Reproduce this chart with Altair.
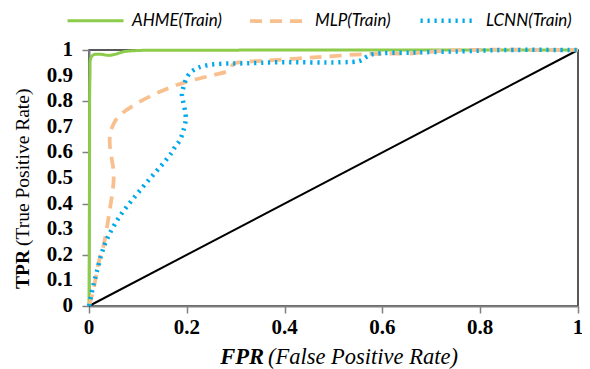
import altair as alt
import pandas as pd

# ---- data ----
ahme_fpr = [0, 0.001, 0.002, 0.004, 0.01, 0.025, 0.04, 0.055, 0.07, 0.1, 0.2, 0.5, 1]
ahme_tpr = [0, 0.5, 0.9, 0.97, 0.982, 0.983, 0.979, 0.984, 0.993, 0.998, 0.999, 1, 1]

mlp_fpr = [0, 0.009, 0.021, 0.029, 0.042, 0.05, 0.05, 0.046, 0.043, 0.043, 0.05, 0.06,
           0.077, 0.104, 0.145, 0.179, 0.213, 0.254, 0.288, 0.295, 0.322, 0.357, 0.459,
           0.568, 0.663, 0.711, 0.76, 1]
mlp_tpr = [0, 0.0625, 0.18, 0.23, 0.37, 0.48, 0.53, 0.58, 0.62, 0.67, 0.71, 0.74,
           0.766, 0.798, 0.837, 0.863, 0.883, 0.902, 0.922, 0.945, 0.954, 0.958, 0.971,
           0.984, 0.987, 0.995, 1, 1]

lcnn_fpr = [0, 0.009, 0.016, 0.026, 0.036, 0.05, 0.067, 0.087, 0.108, 0.128, 0.149, 0.169,
            0.176, 0.186, 0.196, 0.198, 0.196, 0.193, 0.19, 0.193, 0.198, 0.206, 0.22,
            0.234, 0.261, 0.316, 0.39, 0.513, 0.554, 0.568, 0.581, 0.663, 0.765, 0.85, 1]
lcnn_tpr = [0, 0.082, 0.134, 0.206, 0.258, 0.31, 0.362, 0.411, 0.46, 0.505, 0.551, 0.599,
            0.622, 0.648, 0.707, 0.733, 0.766, 0.794, 0.824, 0.854, 0.883, 0.909, 0.928,
            0.9375, 0.945, 0.948, 0.952, 0.952, 0.958, 0.974, 0.984, 0.99, 0.995, 1, 1]

series_names = ["AHME(Train)", "MLP(Train)", "LCNN(Train)"]
series_colors = ["#8DCB4B", "#F9C08F", "#00A9EC"]
diag_x = [0, 1]
diag_y = [0, 1]
x_ticks = [0, 0.2, 0.4, 0.6, 0.8, 1]
y_ticks = [0, 0.1, 0.2, 0.3, 0.4, 0.5, 0.6, 0.7, 0.8, 0.9, 1]

rows = []
for name, xs, ys in zip(series_names, [ahme_fpr, mlp_fpr, lcnn_fpr], [ahme_tpr, mlp_tpr, lcnn_tpr]):
    for i, (a, b) in enumerate(zip(xs, ys)):
        rows.append({"series": name, "fpr": a, "tpr": b, "idx": i})
df = pd.DataFrame(rows)
diag = pd.DataFrame({"fpr": diag_x, "tpr": diag_y})
xt = pd.DataFrame({"v": x_ticks, "lab": [f"{v:g}" for v in x_ticks]})
yt = pd.DataFrame({"v": y_ticks, "lab": [f"{v:g}" for v in y_ticks]})

xscale = alt.Scale(domain=[0, 1], nice=False, zero=False)
yscale = alt.Scale(domain=[0, 1], nice=False, zero=False)

axis_style = dict(title=None, grid=False, labels=False,
                  domainColor="#808080", domainWidth=2, tickColor="#808080", tickWidth=1.5,
                  tickSize=7)
xaxis = alt.Axis(values=x_ticks, **axis_style)
yaxis = alt.Axis(values=y_ticks, **axis_style)

diag_line = alt.Chart(diag).mark_line(color="black", strokeWidth=2).encode(
    x=alt.X("fpr:Q", scale=xscale, axis=xaxis),
    y=alt.Y("tpr:Q", scale=yscale, axis=yaxis),
)

curves = alt.Chart(df).mark_line(interpolate="catmull-rom", strokeCap="butt", strokeJoin="round").encode(
    x=alt.X("fpr:Q", scale=xscale, axis=xaxis),
    y=alt.Y("tpr:Q", scale=yscale, axis=yaxis),
    order=alt.Order("idx:Q"),
    color=alt.Color("series:N", scale=alt.Scale(domain=series_names, range=series_colors),
                    legend=alt.Legend(title=None, orient="none", legendX=-23, legendY=-60,
                                      direction="horizontal", symbolType="stroke",
                                      symbolSize=3136, symbolStrokeWidth=3.5,
                                      labelFont="Lato", labelFontStyle="italic",
                                      labelFontSize=17, labelColor="black",
                                      labelOffset=7, columnPadding=20)),
    strokeDash=alt.StrokeDash("series:N", scale=alt.Scale(domain=series_names,
                              range=[[1, 0], [12, 8], [2.2, 4.8]])),
    strokeWidth=alt.StrokeWidth("series:N", scale=alt.Scale(domain=series_names, range=[3, 4.5, 3]),
                                legend=None),
)

label_font = "Liberation Serif"
xlabels = alt.Chart(xt).mark_text(font=label_font, fontSize=21, fontWeight="bold",
                                  baseline="middle", align="center", color="black").encode(
    x=alt.X("v:Q", scale=xscale), y=alt.value(278), text="lab:N")
ylabels = alt.Chart(yt).mark_text(font=label_font, fontSize=21, fontWeight="bold",
                                  baseline="middle", align="right", color="black").encode(
    y=alt.Y("v:Q", scale=yscale), x=alt.value(-16), text="lab:N")

x_t1 = alt.Chart(pd.DataFrame({"t": ["FPR"]})).mark_text(
    font=label_font, fontSize=22.5, fontWeight="bold", fontStyle="italic", align="right",
    baseline="middle", color="black").encode(text="t:N", x=alt.value(175), y=alt.value(307))
x_t2 = alt.Chart(pd.DataFrame({"t": ["(False Positive Rate)"]})).mark_text(
    font=label_font, fontSize=22.5, fontStyle="italic", align="left",
    baseline="middle", color="black").encode(text="t:N", x=alt.value(179), y=alt.value(307))
y_t1 = alt.Chart(pd.DataFrame({"t": ["TPR"]})).mark_text(
    font=label_font, fontSize=19.5, fontWeight="bold", align="right", angle=270,
    baseline="middle", color="black").encode(text="t:N", x=alt.value(-66), y=alt.value(200))
y_t2 = alt.Chart(pd.DataFrame({"t": ["(True Positive Rate)"]})).mark_text(
    font=label_font, fontSize=19.5, align="left", angle=270,
    baseline="middle", color="black").encode(text="t:N", x=alt.value(-66), y=alt.value(196))

chart = alt.layer(diag_line, curves, xlabels, ylabels, x_t1, x_t2, y_t1, y_t2).properties(
    width=489, height=256,
    background="white",
    autosize=alt.AutoSizeParams(type="none"),
    padding={"left": 81, "top": 42, "right": 4, "bottom": 63},
).configure_view(stroke="#222222", strokeWidth=1.5)

chart.save("out.html", embed_options={"renderer": "svg", "actions": False})
